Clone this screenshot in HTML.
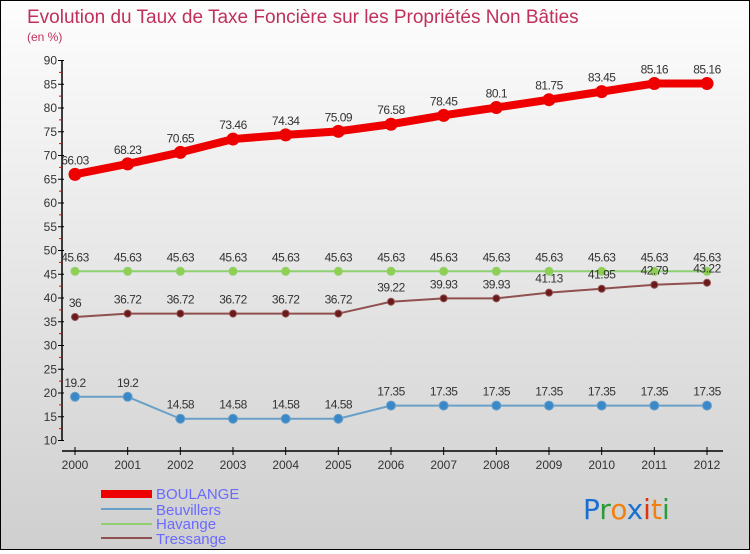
<!DOCTYPE html>
<html><head><meta charset="utf-8"><style>
body{margin:0;width:750px;height:550px;overflow:hidden;font-family:"Liberation Sans",sans-serif}
#wrap{position:relative;width:748px;height:548px;border:1px solid #000;background:linear-gradient(#fdfdfd,#cfcfcf)}
</style></head><body>
<div id="wrap">
<svg id="c" width="748" height="548">
<text x="26" y="22" font-size="19" fill="#c0305a">Evolution du Taux de Taxe Foncière sur les Propriétés Non Bâties</text>
<text x="26" y="40" font-size="12" fill="#c0305a">(en %)</text>
<g id="axes"></g><g id="series"></g>
<g>
<rect x="100" y="489" width="51" height="8" fill="#e00"/>
<text x="155" y="498" font-size="15" fill="#6a6aff">BOULANGE</text>
<line x1="100" x2="151" y1="508" y2="508" stroke="#6aa0c8" stroke-width="2"/>
<text x="155" y="514" font-size="15" fill="#6a6aff">Beuvillers</text>
<line x1="100" x2="151" y1="523" y2="523" stroke="#8fd070" stroke-width="2"/>
<text x="155" y="528" font-size="15" fill="#6a6aff">Havange</text>
<line x1="100" x2="151" y1="537" y2="537" stroke="#905050" stroke-width="2"/>
<text x="155" y="543" font-size="15" fill="#6a6aff">Tressange</text>
</g>
<g font-size="28" font-family="'DejaVu Sans',sans-serif">
<text x="582" y="518"><tspan fill="#1a70d0">P</tspan><tspan fill="#2a9a3a">r</tspan><tspan fill="#f08010">o</tspan><tspan fill="#1a70d0">x</tspan><tspan fill="#e03010">i</tspan><tspan fill="#f08010">t</tspan><tspan fill="#2a9a3a">i</tspan></text>
</g>
</svg>
</div>
<script>
const years=["2000","2001","2002","2003","2004","2005","2006","2007","2008","2009","2010","2011","2012"];
const boulange=[66.03,68.23,70.65,73.46,74.34,75.09,76.58,78.45,80.1,81.75,83.45,85.16,85.16];
const beuvillers=[19.2,19.2,14.58,14.58,14.58,14.58,17.35,17.35,17.35,17.35,17.35,17.35,17.35];
const havange=[45.63,45.63,45.63,45.63,45.63,45.63,45.63,45.63,45.63,45.63,45.63,45.63,45.63];
const tressange=[36,36.72,36.72,36.72,36.72,36.72,39.22,39.93,39.93,41.13,41.95,42.79,43.22];
const yTicks=[10,15,20,25,30,35,40,45,50,55,60,65,70,75,80,85,90];
const NS="http://www.w3.org/2000/svg";
const xs=i=>74+i*(706-74)/(years.length-1);
const ys=v=>439.5-(v-10)*(439.5-59.5)/80;
function mk(tag,attrs,parent,text){const e=document.createElementNS(NS,tag);for(const k in attrs)e.setAttribute(k,attrs[k]);if(text!==undefined)e.textContent=text;parent.appendChild(e);return e;}
const ax=document.getElementById('axes');
let l=mk('line',{x1:61,x2:61,y1:59.5,y2:439.5,stroke:'#000','stroke-width':1.5},ax);


l=mk('line',{x1:61,x2:722,y1:450,y2:450,stroke:'#000','stroke-width':1.5},ax);


yTicks.forEach(v=>{
 mk('line',{x1:57,x2:63,y1:ys(v),y2:ys(v),stroke:'#000'},ax);
 if(v<90) mk('line',{x1:58,x2:61,y1:ys(v+2.5),y2:ys(v+2.5),stroke:'#e00'},ax);
 const t=mk('text',{x:56,y:ys(v)+4,'font-size':12,fill:'#333','text-anchor':'end'},ax,String(v));
 
 
});
years.forEach((y,i)=>{
 mk('line',{x1:xs(i),x2:xs(i),y1:446,y2:454,stroke:'#000'},ax);
 const t=mk('text',{x:xs(i),y:468,'font-size':12,fill:'#333','text-anchor':'middle'},ax,y);
 
 
});
const sg=document.getElementById('series');
function draw(name,data,color,w,r,dot){
 const g=mk('g',{},sg);
 
 
 const p=mk('polyline',{points:data.map((v,i)=>xs(i)+','+ys(v)).join(' '),fill:'none',stroke:color,'stroke-width':w,'stroke-linejoin':'round'},g);
 
 
 data.forEach((v,i)=>{
  const c=mk('circle',{cx:xs(i),cy:ys(v),r:r,fill:dot,stroke:color,'stroke-width':1},g);
  
  
  const t=mk('text',{x:xs(i),y:ys(v)-10,'font-size':12,fill:'#333','text-anchor':'middle','letter-spacing':'-0.5'},g,String(v));
  
  
 });
}
draw('havange',havange,'#8fd070',2,4,'#8fd050');
draw('tressange',tressange,'#905050',2,3.5,'#6a1a1a');
draw('beuvillers',beuvillers,'#6aa0c8',2,4.5,'#3a88c8');
draw('boulange',boulange,'#e00',8,6,'#e00');
</script>
</body></html>
